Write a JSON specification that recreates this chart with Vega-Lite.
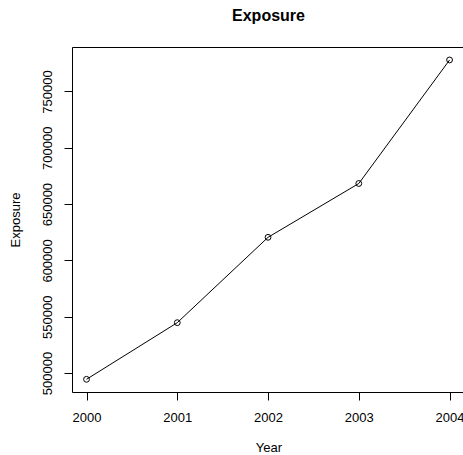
{
  "$schema": "https://vega.github.io/schema/vega-lite/v6.json",
  "autosize": {"type": "none"},
  "width": 393,
  "height": 345,
  "padding": {"left": 72, "top": 47, "right": 0, "bottom": 63},
  "background": "white",
  "config": {
    "font": "Liberation Sans, Arial, Helvetica, sans-serif",
    "view": {"stroke": "black", "strokeWidth": 1},
    "axis": {
      "grid": false,
      "domain": false,
      "tickColor": "black",
      "tickSize": 8,
      "labelColor": "black",
      "labelFontSize": 13,
      "labelFont": "Liberation Sans, Arial, sans-serif",
      "titleColor": "black",
      "titleFontSize": 13,
      "titleFontWeight": "normal",
      "titleFont": "Liberation Sans, Arial, sans-serif"
    }
  },
  "title": {
    "text": "Exposure",
    "fontSize": 16,
    "fontWeight": "bold",
    "font": "Liberation Sans, Arial, sans-serif",
    "color": "black",
    "anchor": "middle",
    "offset": 23
  },
  "data": {
    "values": [
      {"Year": 2000, "Exposure": 494400},
      {"Year": 2001, "Exposure": 544700},
      {"Year": 2002, "Exposure": 620500},
      {"Year": 2003, "Exposure": 668300},
      {"Year": 2004, "Exposure": 778000}
    ]
  },
  "encoding": {
    "x": {
      "field": "Year",
      "type": "quantitative",
      "scale": {"domain": [1999.84, 2004.17], "nice": false, "zero": false},
      "axis": {
        "values": [2000, 2001, 2002, 2003, 2004],
        "format": "d",
        "labelPadding": 11,
        "title": "Year",
        "titlePadding": 17
      }
    },
    "y": {
      "field": "Exposure",
      "type": "quantitative",
      "scale": {"domain": [483126, 789520], "nice": false, "zero": false},
      "axis": {
        "values": [500000, 550000, 600000, 650000, 700000, 750000],
        "format": "d",
        "labelAngle": -90,
        "labelAlign": "center",
        "labelBaseline": "bottom",
        "labelPadding": 10,
        "title": "Exposure",
        "titlePadding": 19
      }
    }
  },
  "layer": [
    {"mark": {"type": "line", "color": "black", "strokeWidth": 1}},
    {"mark": {"type": "point", "shape": "circle", "filled": false, "size": 34, "color": "black", "strokeWidth": 1, "opacity": 1}}
  ]
}
